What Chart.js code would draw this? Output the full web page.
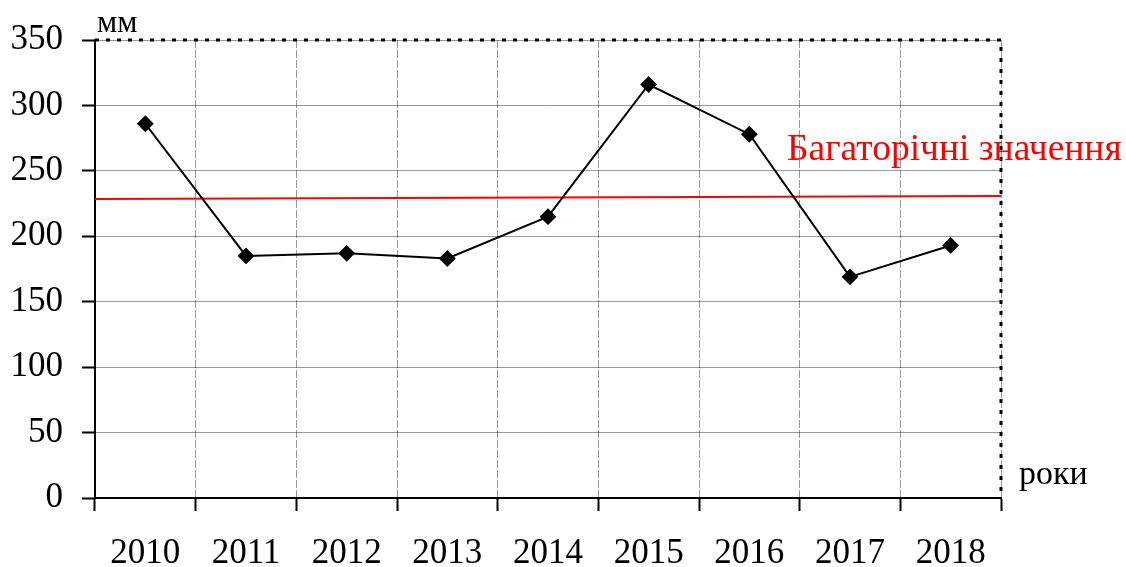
<!DOCTYPE html>
<html>
<head>
<meta charset="utf-8">
<script src="https://cdn.jsdelivr.net/npm/chart.js@4"></script>
<style>
  html, body { margin: 0; padding: 0; background: #fff; }
  #wrap { width: 1126px; height: 567px; }
</style>
</head>
<body>
<div id="wrap"><canvas id="rain-chart" width="1126" height="567"></canvas></div>
<script>
const years = ["2010", "2011", "2012", "2013", "2014", "2015", "2016", "2017", "2018"];
const rainfall = [286, 185, 187, 183, 215, 316, 278, 169, 193];
const normStart = 228.5;
const normEnd = 230.8;
const yTicks = [0, 50, 100, 150, 200, 250, 300, 350];

const serif = "'Liberation Serif', 'DejaVu Serif', serif";

// top/right dotted frame and the free text labels
const framePlugin = {
  id: "frame",
  afterDatasetsDraw(chart) {
    const { ctx, chartArea: a } = chart;
    ctx.save();
    ctx.strokeStyle = "#000";
    ctx.lineWidth = 3;
    ctx.setLineDash([4, 7]);
    ctx.beginPath();
    ctx.moveTo(a.left, a.top);
    ctx.lineTo(a.right, a.top);
    ctx.lineTo(a.right, a.bottom);
    ctx.stroke();
    ctx.setLineDash([]);

    ctx.fillStyle = "#000";
    ctx.font = "32px " + serif;
    ctx.textBaseline = "alphabetic";
    ctx.textAlign = "left";
    ctx.fillText("мм", a.left + 2, 32);

    ctx.font = "34px " + serif;
    ctx.fillText("роки", 1019, 484);

    ctx.fillStyle = "#ff0000";
    ctx.font = "37.5px " + serif;
    ctx.fillText("Багаторічні значення", 787, 160);
    ctx.restore();
  }
};

const ctx = document.getElementById("rain-chart").getContext("2d");
new Chart(ctx, {
  type: "line",
  data: {
    labels: years,
    datasets: [
      {
        data: rainfall,
        borderColor: "#000",
        borderWidth: 2,
        pointStyle: "rectRot",
        pointRadius: 7,
        pointBackgroundColor: "#000",
        pointBorderColor: "#000",
        tension: 0,
        xAxisID: "x"
      },
      {
        data: [{ x: 0, y: normStart }, { x: 1, y: normEnd }],
        borderColor: "#ff0000",
        borderWidth: 2,
        pointRadius: 0,
        xAxisID: "x2"
      }
    ]
  },
  options: {
    responsive: false,
    animation: false,
    layout: { padding: { top: 40, right: 125, left: 0, bottom: 0 } },
    plugins: { legend: { display: false }, tooltip: { enabled: false } },
    scales: {
      x: {
        type: "category",
        offset: true,
        grid: {
          offset: true,
          color: "rgba(0,0,0,0.4)",
          borderDash: [1, 1],
          tickLength: 13,
          tickColor: "#000",
          tickWidth: 2,
          tickBorderDash: []
        },
        border: { display: true, color: "#000", width: 2, dash: [8, 2] },
        ticks: { color: "#000", font: { family: serif, size: 35 }, padding: 22, maxRotation: 0, autoSkip: false },
        afterFit(scale) { scale.height = 69; }
      },
      x2: {
        type: "linear",
        display: false,
        min: 0,
        max: 1
      },
      y: {
        min: 0,
        max: 350,
        afterBuildTicks(scale) { scale.ticks = yTicks.map(v => ({ value: v })); },
        grid: {
          color: "rgba(0,0,0,0.4)",
          borderDash: [1, 1],
          tickLength: 13,
          tickColor: "#000",
          tickWidth: 2,
          tickBorderDash: []
        },
        border: { display: true, color: "#000", width: 2 },
        ticks: { color: "#000", font: { family: serif, size: 35 }, padding: 19 },
        afterFit(scale) { scale.width = 95; }
      }
    }
  },
  plugins: [framePlugin]
});
</script>
</body>
</html>
